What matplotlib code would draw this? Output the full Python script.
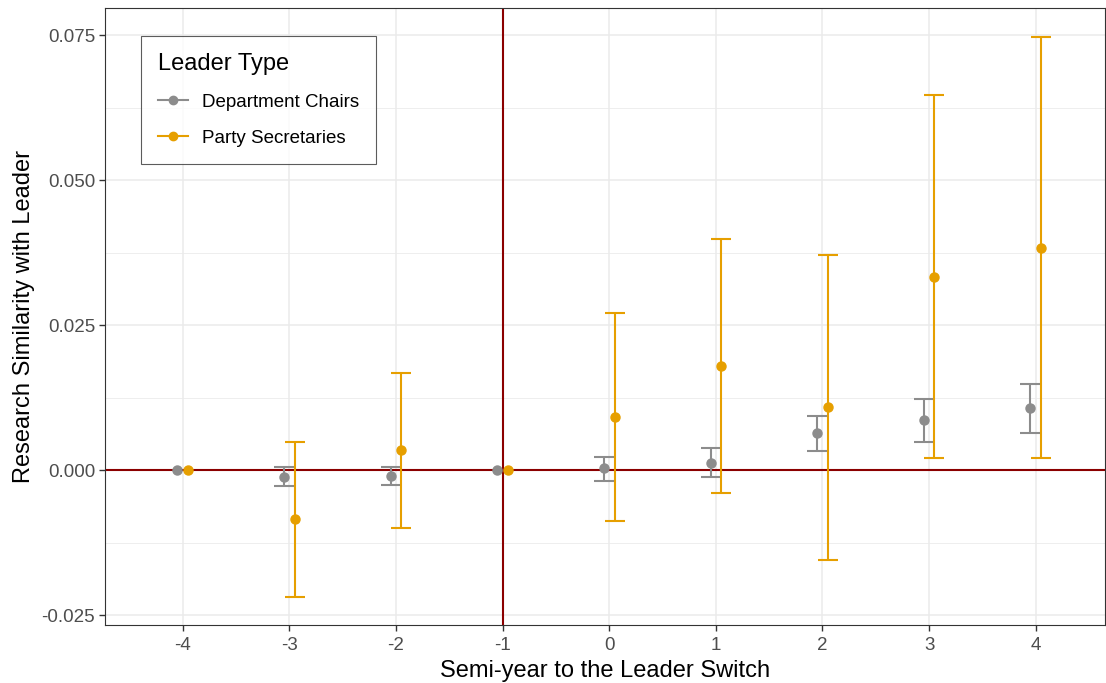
import matplotlib
matplotlib.use("Agg")
import matplotlib.pyplot as plt
from matplotlib.lines import Line2D
import numpy as np

plt.rcParams['font.family'] = ['Liberation Sans', 'DejaVu Sans']

periods = [-4, -3, -2, -1, 0, 1, 2, 3, 4]
chair_est = [0.0, -0.00115, -0.0010, 0.0, 0.0003, 0.00126, 0.0064, 0.0086, 0.0107]
chair_hi = [0.0, 0.0005, 0.0005, 0.0, 0.0023, 0.0038, 0.0094, 0.0122, 0.0149]
chair_lo = [0.0, -0.0028, -0.0026, 0.0, -0.0018, -0.00126, 0.0033, 0.0049, 0.0064]
sec_est = [0.0, -0.00845, 0.00345, 0.0, 0.0091, 0.0179, 0.0109, 0.0334, 0.0384]
sec_hi = [0.0, 0.0049, 0.0167, 0.0, 0.0271, 0.0398, 0.0371, 0.0647, 0.0747]
sec_lo = [0.0, -0.0219, -0.00994, 0.0, -0.0088, -0.0040, -0.0155, 0.0021, 0.0021]
series_names = ["Department Chairs", "Party Secretaries"]
colors = ["#8C8C8C", "#E69F00"]
yticks = [-0.025, 0.0, 0.025, 0.050, 0.075]

fig = plt.figure(figsize=(11.06, 6.83), dpi=100)
ax = fig.add_axes([0.0949, 0.085, 0.9042, 0.903])

x = np.array(periods, dtype=float)
dodge = 0.05
for i, (est, lo, hi) in enumerate([(chair_est, chair_lo, chair_hi), (sec_est, sec_lo, sec_hi)]):
    est = np.array(est); lo = np.array(lo); hi = np.array(hi)
    xs = x + (-dodge if i == 0 else dodge)
    mask = (hi - lo) > 0
    ax.errorbar(xs[mask], est[mask], yerr=[est[mask] - lo[mask], hi[mask] - est[mask]],
                fmt='none', ecolor=colors[i], elinewidth=1.5, capsize=7, capthick=1.5, zorder=3)
    ax.plot(xs, est, 'o', color=colors[i], markersize=6.5, zorder=4)

ax.axhline(0, color='#8B0000', lw=1.5, zorder=2.5)
ax.axvline(-1, color='#8B0000', lw=1.5, zorder=2.5)

ax.set_xlim(-4.73, 4.65)
ax.set_ylim(-0.0267, 0.0797)
ax.set_xticks(periods)
ax.set_xticklabels([str(p) for p in periods])
ax.set_yticks(yticks)
ax.set_yticklabels([f"{v:.3f}" for v in yticks])
ax.set_yticks([-0.0125, 0.0125, 0.0375, 0.0625], minor=True)
ax.grid(True, which='major', color='#EBEBEB', lw=1.1, zorder=0)
ax.grid(True, which='minor', axis='y', color='#EBEBEB', lw=0.6, zorder=0)
ax.tick_params(axis='x', which='minor', bottom=False)
ax.tick_params(axis='y', which='minor', left=False)
ax.tick_params(which='major', length=4, color='#333333', labelsize=13.5, labelcolor='#4D4D4D', width=1.0, pad=3)
ax.tick_params(axis='x', which='major', pad=5)
ax.set_axisbelow(True)
for s in ax.spines.values():
    s.set_color('#333333'); s.set_linewidth(0.8)

ax.set_xlabel("Semi-year to the Leader Switch", fontsize=17, labelpad=4)
ax.set_ylabel("Research Similarity with Leader", fontsize=17, labelpad=5)

handles = [Line2D([0], [0], color=c, marker='o', lw=1.5, markersize=6) for c in colors]
leg = ax.legend(handles, series_names, title="Leader Type", loc='upper left',
                bbox_to_anchor=(0.036, 0.9546), frameon=True, fancybox=False,
                fontsize=13.5, title_fontsize=17, handlelength=1.6, borderpad=0.9,
                labelspacing=1.0, handletextpad=0.75, borderaxespad=0)
leg.get_frame().set_edgecolor('#333333')
leg.get_frame().set_linewidth(0.8)
leg._legend_box.align = "left"

fig.savefig("out.png", dpi=100)
